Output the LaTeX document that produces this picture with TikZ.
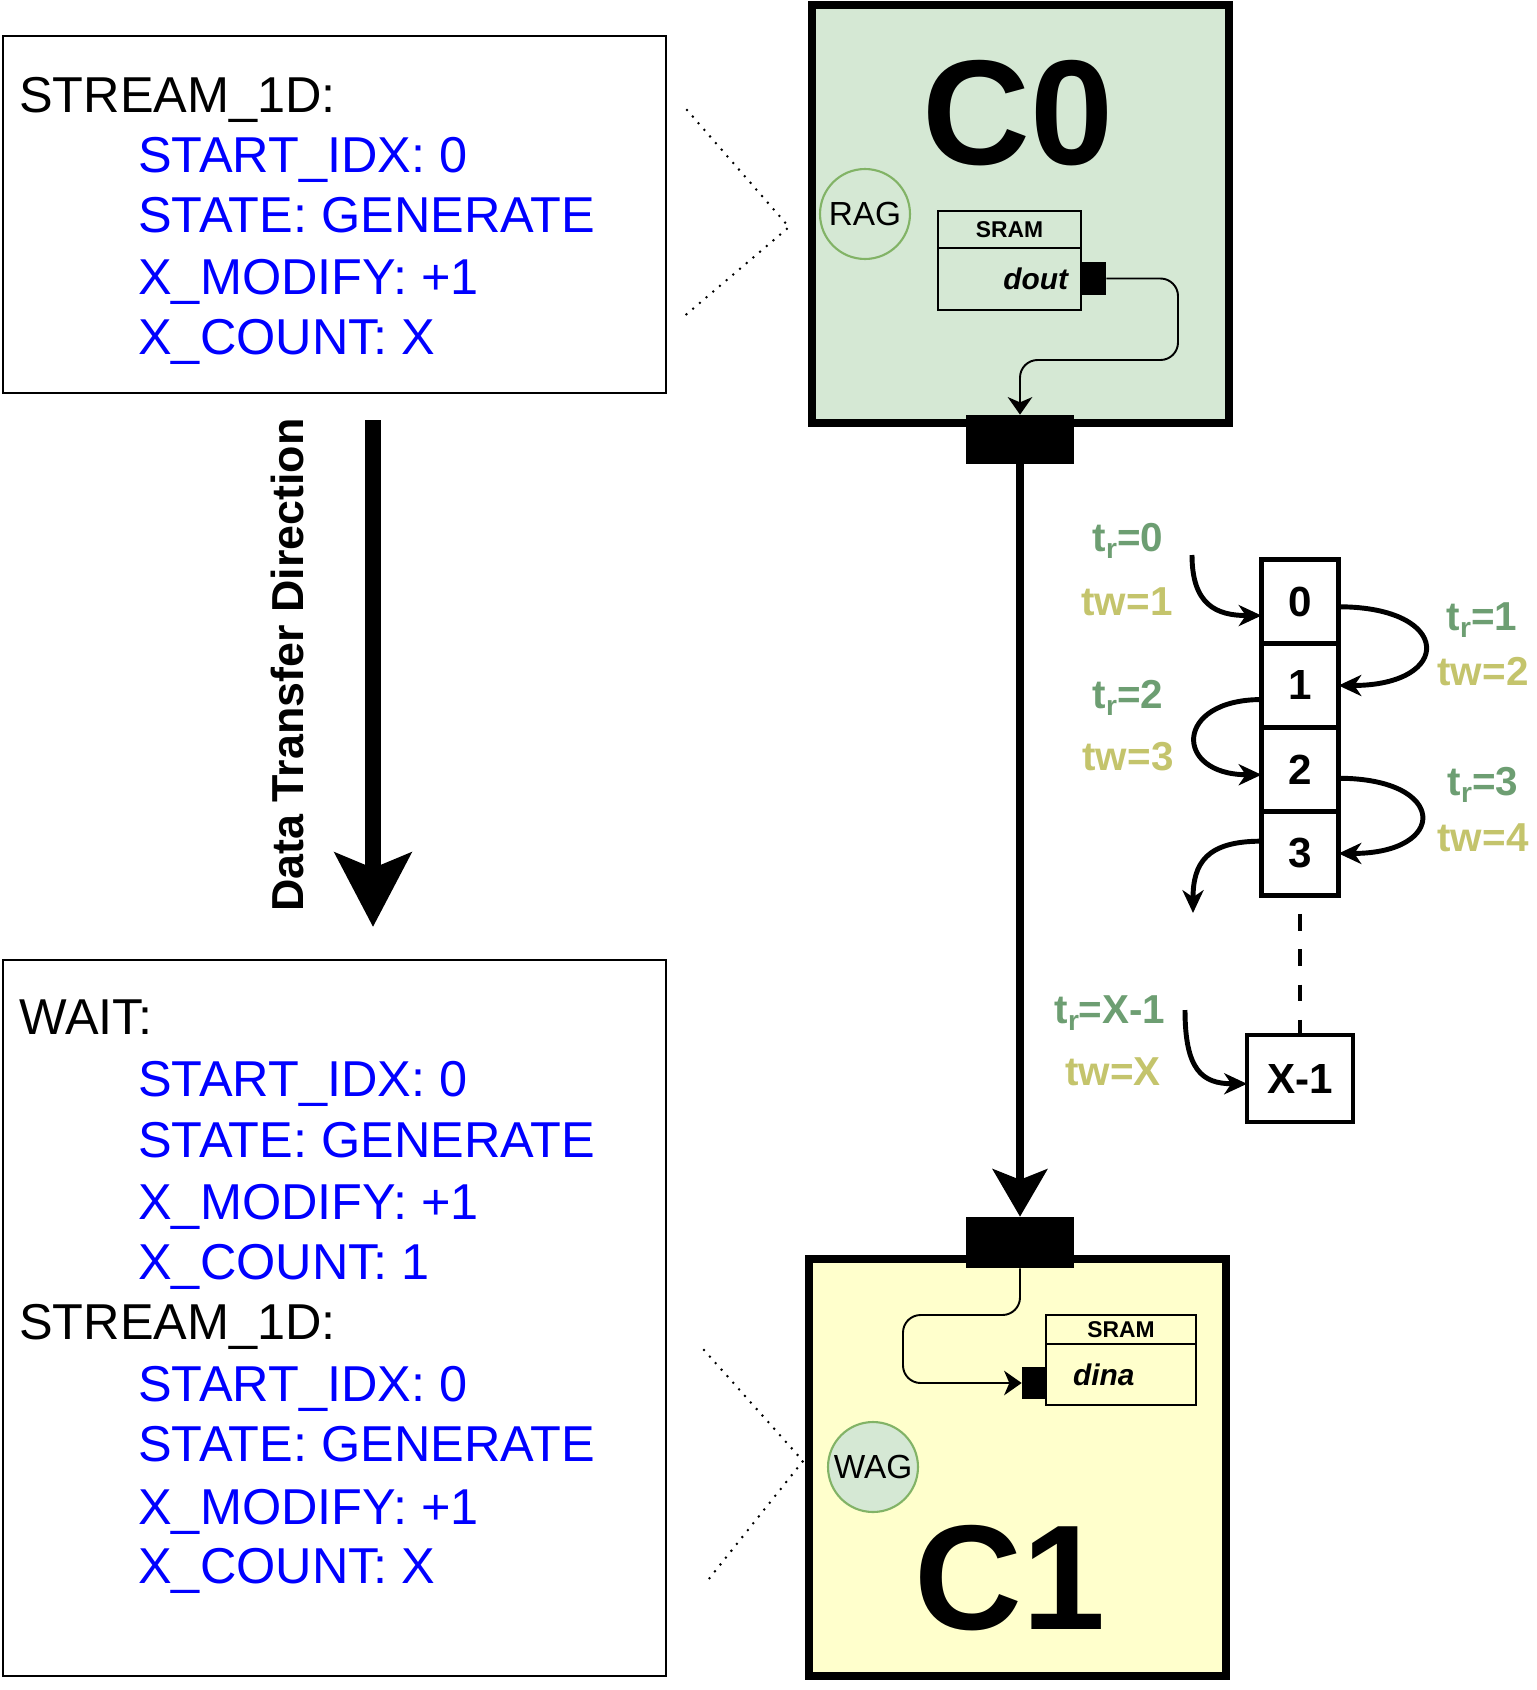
\documentclass[tikz,border=0pt]{standalone}
\usepackage{fontspec}
\setmainfont{Liberation Sans}
\usetikzlibrary{positioning,arrows.meta}

\definecolor{coreGreen}{HTML}{D5E8D4}
\definecolor{coreYellow}{HTML}{FFFFCC}
\definecolor{agStroke}{HTML}{82B366}
\definecolor{trGreen}{HTML}{6D9E72}
\definecolor{twOlive}{HTML}{C4C46C}
\definecolor{cfgBlue}{HTML}{0000FF}
\newcommand{\treadsub}{t\raisebox{-0.3ex}{\fontsize{16}{16}\selectfont r}}

\begin{document}
\begin{tikzpicture}[x=0.02cm, y=-0.02cm,
  cfgbox/.style={draw, line width=1.4pt, inner sep=0},
  cfgtxt/.style={anchor=base west, inner sep=0, font=\fontsize{28.7}{34}\selectfont},
  cfgval/.style={cfgtxt, text=cfgBlue},
  core/.style={draw, line width=4.5pt, minimum width=8.34cm, minimum height=8.36cm},
  corename/.style={font=\fontsize{85}{85}\selectfont\bfseries},
  agen/.style={circle, draw=agStroke, line width=1.2pt, minimum size=1.8cm, inner sep=0, font=\fontsize{19}{19}\selectfont},
  port/.style={fill=black, inner sep=0},
  sramhead/.style={draw, line width=1.6pt, outer sep=0, inner sep=0, font=\fontsize{13}{13}\selectfont\bfseries},
  srambody/.style={draw, line width=1.6pt, outer sep=0, font=\fontsize{17}{17}\selectfont\bfseries\itshape},
  wire/.style={line width=1.1pt, rounded corners=10pt, -{Stealth[length=10pt,width=14pt,inset=3pt]}},
  mainarr/.style={line width=4.5pt, -{Stealth[length=27pt,width=31pt,inset=6pt]}},
  dirarr/.style={line width=9.6pt, -{Stealth[length=42pt,width=43pt,inset=8.5pt]}},
  cell/.style={draw, line width=2.8pt, minimum width=1.54cm, minimum height=1.68cm, outer sep=0, inner sep=0, font=\fontsize{24}{24}\selectfont\bfseries},
  chainarr/.style={line width=2.8pt, -{Stealth[length=13pt,width=12pt,inset=4pt]}},
  lblr/.style={font=\fontsize{23}{23}\selectfont\bfseries, text=trGreen},
  lblw/.style={font=\fontsize{23}{23}\selectfont\bfseries, text=twOlive},
  callout/.style={line width=1.6pt, line cap=round, dash pattern=on 0pt off 5pt}]
\useasboundingbox (0,0) rectangle (1536,1690);

% configuration of the reading core
\node[cfgbox, minimum width=13.26cm, minimum height=7.14cm] (cfgA) at (334.5,214.5) {};
\node[cfgtxt] (cfgA0) at (19,112)  {STREAM\_1D:};
\node[cfgval] (cfgA1) at (138,172) {START\_IDX: 0};
\node[cfgval] (cfgA2) at (138,232) {STATE: GENERATE};
\node[cfgval] (cfgA3) at (138,294) {X\_MODIFY: +1};
\node[cfgval] (cfgA4) at (138,354) {X\_COUNT: X};

% configuration of the writing core
\node[cfgbox, minimum width=13.26cm, minimum height=14.32cm] (cfgB) at (334.5,1318) {};
\node[cfgtxt] (cfgB0) at (19,1034)  {WAIT:};
\node[cfgval] (cfgB1) at (138,1096) {START\_IDX: 0};
\node[cfgval] (cfgB2) at (138,1157) {STATE: GENERATE};
\node[cfgval] (cfgB3) at (138,1219) {X\_MODIFY: +1};
\node[cfgval] (cfgB4) at (138,1279) {X\_COUNT: 1};
\node[cfgtxt] (cfgB5) at (19,1339)  {STREAM\_1D:};
\node[cfgval] (cfgB6) at (138,1401) {START\_IDX: 0};
\node[cfgval] (cfgB7) at (138,1461) {STATE: GENERATE};
\node[cfgval] (cfgB8) at (138,1524) {X\_MODIFY: +1};
\node[cfgval] (cfgB9) at (138,1583) {X\_COUNT: X};

% direction
\node[rotate=90, font=\fontsize{25.5}{25.5}\selectfont\bfseries] (dirtext) at (287,665) {Data Transfer Direction};
\coordinate (dirtop) at (373,420);
\coordinate (dirtip) at (373,927);
\draw[dirarr] (dirtop) -- (dirtip);

% callouts
\draw[callout] (687,110) -- (789,227) -- (681,319);
\draw[callout] (704,1350) -- (803,1461) -- (704,1585);

% core C0
\node[core, fill=coreGreen] (c0) at (1020.5,214) {};
\node[corename] (c0name) at (1018,113) {C0};
\node[agen] (rag) at (865,214) {RAG};
\node[sramhead, minimum width=2.86cm, minimum height=0.74cm] (sram0head) at (1009.5,229.5) {SRAM};
\node[srambody, below=0pt of sram0head, minimum height=1.24cm, inner xsep=0.26cm, inner ysep=0, text width=2.34cm, align=right] (sram0body) {dout};
\node[port, minimum width=0.5cm, minimum height=0.66cm] (doutport) at (1093.5,278.5) {};
\node[port, minimum width=2.16cm, minimum height=0.98cm] (c0port) at (1020,439.5) {};
\draw[wire] (doutport.east) -| (1178,360) -| (c0port.north);

% core C1
\node[core, fill=coreYellow, minimum height=8.34cm] (c1) at (1017.5,1467.5) {};
\node[corename] (c1name) at (1010,1578) {C1};
\node[agen, fill=coreGreen] (wag) at (873,1467) {WAG};
\node[sramhead, minimum width=3cm, minimum height=0.58cm] (sram1head) at (1121,1329.5) {SRAM};
\node[srambody, below=0pt of sram1head, minimum height=1.22cm, inner xsep=0.54cm, inner ysep=0, text width=1.92cm, align=left] (sram1body) {dina};
\node[port, minimum width=0.5cm, minimum height=0.64cm] (dinaport) at (1034.5,1383) {};
\node[port, minimum width=2.16cm, minimum height=1.02cm] (c1port) at (1020,1242.5) {};
\draw[wire] (c1port.south) |- (903,1315) |- (dinaport.west);

% transfer between cores
\draw[mainarr] (c0port.south) -- (c1port.north);

% buffer cells
\node[cell] (cell0) at (1300,601.5) {0};
\node[cell, below=0pt of cell0] (cell1) {1};
\node[cell, below=0pt of cell1] (cell2) {2};
\node[cell, below=0pt of cell2] (cell3) {3};
\node[cell, minimum width=2.12cm, minimum height=1.74cm] (xcell) at (1300,1078.5) {X-1};
\draw[line width=2.8pt, dash pattern=on 9.6pt off 10.5pt, dash phase=9.6pt] (cell3.south) -- (xcell.north);

% read / write times
\node[lblr] (tr0) at (1128,541)  {\treadsub=0};
\node[lblw] (tw1) at (1127,602)  {tw=1};
\node[lblr] (tr1) at (1482,620)  {\treadsub=1};
\node[lblw] (tw2) at (1483,672)  {tw=2};
\node[lblr] (tr2) at (1128,698)  {\treadsub=2};
\node[lblw] (tw3) at (1128,757)  {tw=3};
\node[lblr] (tr3) at (1483,785)  {\treadsub=3};
\node[lblw] (tw4) at (1483,838)  {tw=4};
\node[lblr] (trx) at (1110,1013) {\treadsub=X-1};
\node[lblw] (twx) at (1113,1072) {tw=X};

\coordinate (rd0) at (1192,555);
\coordinate (rd3) at (1193,913);
\coordinate (rdx) at (1185,1010);
\draw[chainarr] (rd0) .. controls +(0,50) and +(-45,0) .. ([yshift=-8pt]cell0.west);
\draw[chainarr] ([yshift=-3pt]cell0.east) .. controls +(115,0) and +(115,0) .. (cell1.east);
\draw[chainarr] ([yshift=-8pt]cell1.west) .. controls +(-88,0) and +(-88,0) .. ([yshift=-3pt]cell2.west);
\draw[chainarr] ([yshift=-5pt]cell2.east) .. controls +(110,0) and +(110,0) .. (cell3.east);
\draw[chainarr] ([yshift=7pt]cell3.west) .. controls +(-55,0) and +(0,-50) .. (rd3);
\draw[chainarr] (rdx) .. controls +(0,60) and +(-45,0) .. ([yshift=-3pt]xcell.west);
\end{tikzpicture}
\end{document}
